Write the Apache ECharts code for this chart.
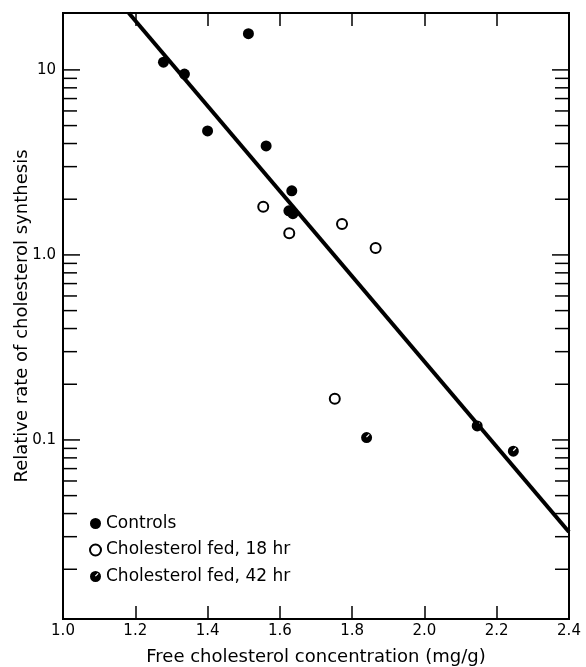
<!DOCTYPE html>
<html>
<head>
<meta charset="utf-8">
<script src="https://cdn.jsdelivr.net/npm/echarts@6/dist/echarts.min.js"></script>
<style>
html,body{margin:0;padding:0;background:#fff;}
#chart{width:586px;height:667px;}
</style>
</head>
<body>
<div id="chart"></div>
<script>
// ---- data ----
const controls = [[1.278, 11.0], [1.336, 9.5], [1.513, 15.7], [1.400, 4.68], [1.562, 3.88], [1.633, 2.22], [1.625, 1.73], [1.636, 1.67]];
const fed18 = [[1.554, 1.82], [1.626, 1.31], [1.772, 1.47], [1.865, 1.09], [1.752, 0.167]];
const fed42 = [[1.840, 0.103], [2.146, 0.119], [2.246, 0.087]];
const fitLine = [[1.182, 20.3], [2.4, 0.0318]];
const seriesNames = ['Controls', 'Cholesterol fed, 18 hr', 'Cholesterol fed, 42 hr'];
const yLabelValues = [0.1, 1, 10];
const yLabelTexts = ['0.1', '1.0', '10'];
const yMin = 0.01077, yMax = 20.3;
const xMin = 1.0, xMax = 2.4, xStep = 0.2;
const yMajorTicks = [0.1, 1, 10];
const yMinorTicks = [0.02,0.03,0.04,0.05,0.06,0.07,0.08,0.09, 0.2,0.3,0.4,0.5,0.6,0.7,0.8,0.9, 2,3,4,5,6,7,8,9];

const FONT = 'DejaVu Sans';
const halfSymbol = 'path://M10,0 A10,10 0 1,1 10,20 A10,10 0 1,1 10,0 Z M9,8.5 L10.5,10 L15.5,5 L14,3.5 Z';

const tickData = yMajorTicks.map(v => [xMin, v, 17]).concat(yMinorTicks.map(v => [xMin, v, 14]));

const chart = echarts.init(document.getElementById('chart'), null, {renderer: 'canvas'});
chart.setOption({
  animation: false,
  backgroundColor: '#fff',
  grid: {left: 63, right: 17, top: 13, bottom: 48, containLabel: false, outerBoundsMode: 'none',
         show: true, borderColor: '#000', borderWidth: 2, backgroundColor: 'transparent'},
  legend: {
    data: seriesNames,
    orient: 'vertical', left: 84, top: 510,
    itemWidth: 11, itemHeight: 11, itemGap: 9.5,
    textStyle: {fontFamily: FONT, fontSize: 17, color: '#000', lineHeight: 17},
    inactiveColor: '#000'
  },
  xAxis: [{
    type: 'value', min: xMin, max: xMax, interval: xStep, position: 'bottom',
    name: 'Free cholesterol concentration (mg/g)', nameLocation: 'middle', nameGap: 29,
    nameMoveOverlap: false,
    nameTextStyle: {fontFamily: FONT, fontSize: 18, color: '#000'},
    axisLine: {show: false},
    axisTick: {show: true, inside: true, length: 13, lineStyle: {color: '#000', width: 1.5}},
    axisLabel: {fontFamily: FONT, fontSize: 15, color: '#000', margin: 5, formatter: v => v.toFixed(1)},
    splitLine: {show: false}
  }, {
    type: 'value', min: xMin, max: xMax, interval: xStep, position: 'top',
    axisLine: {show: false},
    axisTick: {show: true, inside: true, length: 13, lineStyle: {color: '#000', width: 1.5}},
    axisLabel: {show: false}, splitLine: {show: false}
  }],
  yAxis: {
    type: 'log', logBase: 10, min: yMin, max: yMax,
    name: 'Relative rate of cholesterol synthesis', nameLocation: 'middle', nameGap: 32,
    nameMoveOverlap: false,
    nameTextStyle: {fontFamily: FONT, fontSize: 18, color: '#000'},
    axisLine: {show: false}, axisTick: {show: false}, splitLine: {show: false},
    axisLabel: {
      fontFamily: FONT, fontSize: 15, color: '#000', margin: 7,
      showMinLabel: false, showMaxLabel: false,
      formatter: function (v) {
        for (let i = 0; i < yLabelValues.length; i++) {
          if (Math.abs(Math.log10(v) - Math.log10(yLabelValues[i])) < 1e-6) return yLabelTexts[i];
        }
        return '';
      }
    }
  },
  series: [{
    type: 'custom', silent: true, clip: false, z: 1,
    data: tickData,
    encode: {x: 0, y: 1},
    renderItem: function (params, api) {
      const p = api.coord([xMin, api.value(1)]);
      const q = api.coord([xMax, api.value(1)]);
      const len = api.value(2);
      const st = {stroke: '#000', lineWidth: 1.5};
      return {type: 'group', children: [
        {type: 'line', shape: {x1: p[0], y1: p[1], x2: p[0] + len, y2: p[1]}, style: st},
        {type: 'line', shape: {x1: q[0] - len, y1: q[1], x2: q[0], y2: q[1]}, style: st}
      ]};
    }
  }, {
    type: 'line', data: fitLine, symbol: 'none', silent: true, z: 2,
    lineStyle: {color: '#000', width: 4}
  }, {
    name: seriesNames[0], type: 'scatter', data: controls, symbol: 'circle', symbolSize: 11, z: 3,
    itemStyle: {color: '#000', opacity: 1}
  }, {
    name: seriesNames[1], type: 'scatter', data: fed18, symbol: 'emptyCircle', symbolSize: 10, z: 3,
    itemStyle: {color: '#000', borderColor: '#000', borderWidth: 2, opacity: 1}
  }, {
    name: seriesNames[2], type: 'scatter', data: fed42, symbol: halfSymbol, symbolSize: 11, z: 3,
    itemStyle: {color: '#000', opacity: 1}
  }]
});
</script>
</body>
</html>
